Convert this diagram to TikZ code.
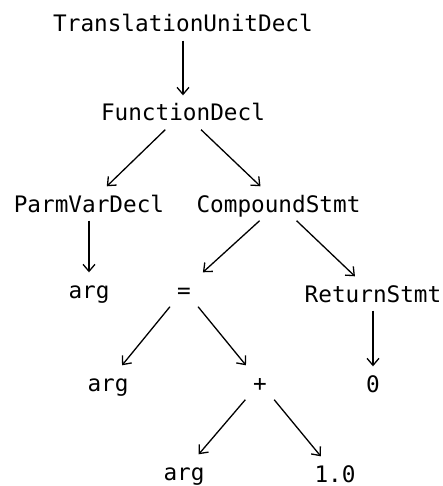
\documentclass[tikz,border=0pt]{standalone}
\usepackage{fontspec}
\setmonofont{DejaVu Sans Mono}
\usetikzlibrary{arrows.meta}
\begin{document}
\begin{tikzpicture}[x=1pt,y=-1pt,
  tnode/.style={font=\ttfamily\fontsize{22.7}{26}\selectfont, inner sep=0pt,
    minimum height=34pt, minimum width=50pt, text height=17pt, text depth=0pt, anchor=base},
  edge/.style={line width=1.3pt, -{Straight Barb[length=7pt,width=12pt]}}]
\useasboundingbox (0,0) rectangle (442,486);
\node[tnode] (tud) at (183,32) {TranslationUnitDecl};
\node[tnode] (fd) at (183,121) {FunctionDecl};
\node[tnode] (pvd) at (89,212) {ParmVarDecl};
\node[tnode] (cs) at (278.5,212) {CompoundStmt};
\node[tnode] (arg1) at (89,298) {arg};
\node[tnode] (eq) at (184,298) {=};
\node[tnode] (rs) at (373,302) {ReturnStmt};
\node[tnode] (arg2) at (108,391) {arg};
\node[tnode] (plus) at (260,391) {+};
\node[tnode] (zero) at (373,392) {0};
\node[tnode] (arg3) at (184,480) {arg};
\node[tnode] (one) at (335,482) {1.0};
\draw[edge] (tud) -- (fd);
\draw[edge] (fd) -- (pvd);
\draw[edge] (fd) -- (cs);
\draw[edge] (pvd) -- (arg1);
\draw[edge] (cs) -- (eq);
\draw[edge] (cs) -- (rs);
\draw[edge] (eq) -- (arg2);
\draw[edge] (eq) -- (plus);
\draw[edge] (rs) -- (zero);
\draw[edge] (plus) -- (arg3);
\draw[edge] (plus) -- (one);
\end{tikzpicture}
\end{document}
